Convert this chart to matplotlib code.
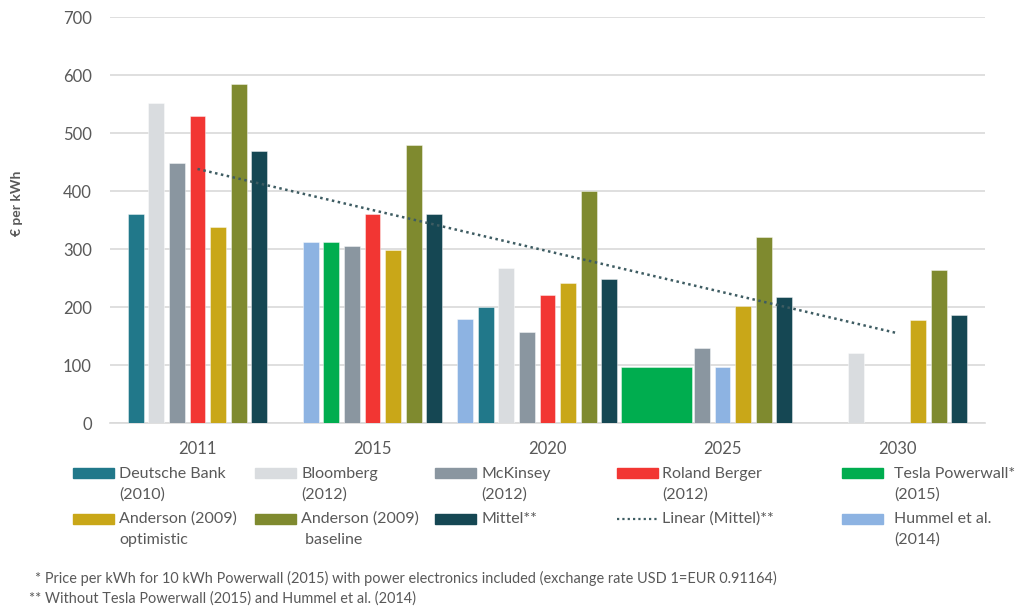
import numpy as np
import matplotlib.pyplot as plt
from matplotlib.patches import Rectangle
from matplotlib.lines import Line2D

plt.rcParams['font.family'] = ['Lato', 'DejaVu Sans']

W, H = 1022, 609
TXT = '#595959'
GRID = '#D9D9D9'

# data (€ per kWh)
years = ['2011', '2015', '2020', '2025', '2030']
deutsche_bank = [360, None, 200, None, None]
bloomberg = [552, None, 268, None, 120]
mckinsey = [448, 306, 157, 130, None]
roland_berger = [529, 360, 220, None, None]
tesla_powerwall = [None, 312, None, 97, None]
anderson_optimistic = [338, 298, 241, 201, 177]
anderson_baseline = [585, 480, 400, 320, 264]
mittel = [469, 361, 248, 217, 187]
hummel = [None, 312, 180, 97, None]

labels = ['Deutsche Bank\n(2010)', 'Bloomberg\n(2012)', 'McKinsey\n(2012)',
          'Roland Berger\n(2012)', 'Tesla Powerwall*\n(2015)',
          'Anderson (2009)\noptimistic', 'Anderson (2009)\n baseline', 'Mittel**',
          'Linear (Mittel)**', 'Hummel et al.\n(2014)']

# layout: slot of each bar inside its year group, and width factor
SLOT = 20.6 / 175
BAR_W = 15.8 / 175
bars = [
    (deutsche_bank, '#21788A', [-3, None, -3, None, None], [1] * 5),
    (bloomberg, '#D9DCDF', [-2, None, -2, None, -2], [1] * 5),
    (mckinsey, '#8A96A0', [-1, -1, -1, -1, None], [1] * 5),
    (roland_berger, '#F23633', [0, 0, 0, None, None], [1] * 5),
    (tesla_powerwall, '#00AD4F', [None, -2, None, -3.2, None], [1, 1, 1, 4.46, 1]),
    (anderson_optimistic, '#C9A718', [1, 1, 1, 1, 1], [1] * 5),
    (anderson_baseline, '#7F8A2F', [2, 2, 2, 2, 2], [1] * 5),
    (mittel, '#154753', [3, 3, 3, 3, 3], [1] * 5),
    (hummel, '#8DB3E2', [None, -3, -4, 0, None], [1] * 5),
]
TREND = '#3E5C62'

fig = plt.figure(figsize=(W / 100, H / 100), dpi=100)
ax = fig.add_axes([110 / W, 1 - 423 / H, 875 / W, 406 / H])

for vals, col, slots, wf in bars:
    for i, v in enumerate(vals):
        if v is None:
            continue
        ax.bar(i + slots[i] * SLOT, v, width=BAR_W * wf[i], color=col,
               edgecolor=(1, 1, 1, 0.5), linewidth=0.6, zorder=3)

# linear trendline of Mittel
xi = np.arange(len(years))
k, d = np.polyfit(xi, mittel, 1)
xt = np.array([xi[0], xi[-1]])
ax.plot(xt, k * xt + d, color=TREND, linestyle=(0, (1, 1.4)), linewidth=1.8, zorder=4)

ax.set_xlim(-0.5, 4.5)
ax.set_ylim(0, 700)
ax.set_yticks(range(0, 701, 100))
ax.set_xticks(xi)
ax.set_xticklabels(years)
ax.grid(axis='y', color=GRID, linewidth=1.2, zorder=0)
for s in ['top', 'right', 'left']:
    ax.spines[s].set_visible(False)
ax.spines['bottom'].set_color(GRID)
ax.spines['bottom'].set_linewidth(1.2)
ax.tick_params(axis='both', length=0, labelsize=12, labelcolor=TXT)
ax.tick_params(axis='y', pad=13)
ax.tick_params(axis='x', pad=13)

fig.text(17 / W, 1 - 203 / H, '€ per kWh', rotation=90, ha='center', va='center',
         fontsize=10, fontweight='bold', color=TXT)

# legend (drawn by hand, 5 columns x 2 rows)
sw_x = [73, 255, 435, 617, 842]
tx_x = [119, 301, 481, 662, 894]
sw_y = [473, 519]
base_y = [478, 523]
colors = [b[1] for b in bars]
legend_colors = colors[:5] + colors[5:8] + [None, colors[8]]
for n, (lab, col) in enumerate(zip(labels, legend_colors)):
    r, c = divmod(n, 5)
    if col is None:
        fig.add_artist(Line2D([sw_x[c] / W, (sw_x[c] + 40) / W],
                              [1 - sw_y[r] / H] * 2, transform=fig.transFigure,
                              color=TREND, linestyle=(0, (1, 1.4)), linewidth=1.6))
    else:
        fig.add_artist(Rectangle((sw_x[c] / W, 1 - (sw_y[r] + 5) / H), 41 / W, 10 / H,
                                 transform=fig.transFigure, color=col))
    for j, line in enumerate(lab.split('\n')):
        fig.text(tx_x[c] / W, 1 - (base_y[r] + 21 * j) / H, line, ha='left',
                 va='baseline', fontsize=11.5, color=TXT)

# footnotes
f1 = fig.text(35 / W, 1 - 583 / H,
              '* Price per kWh for 10 kWh Powerwall (2015) with power electronics '
              'included (exchange rate USD 1=EUR 0.91164)',
              ha='left', va='baseline', fontsize=10, color=TXT)
f2 = fig.text(29 / W, 1 - 603 / H,
              '** Without Tesla Powerwall (2015) and Hummel et al. (2014)',
              ha='left', va='baseline', fontsize=10, color=TXT)
rend = fig.canvas.get_renderer()
fs = 10 * 743 / f1.get_window_extent(rend).width
f1.set_fontsize(fs)
f2.set_fontsize(fs)

fig.savefig('out.png', dpi=100)
